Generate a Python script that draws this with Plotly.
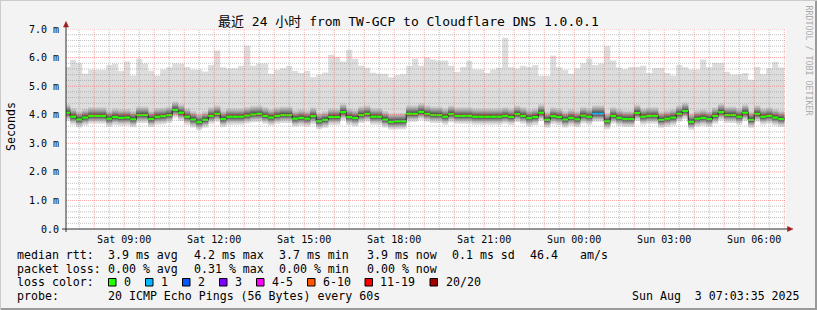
import plotly.graph_objects as go
import pandas as pd

# ---------------- data ----------------
# 12-minute bins starting 2025-08-02 07:00; values in milliseconds
median_ms = [
    4.07, 3.93, 3.83, 3.90, 3.96, 3.96, 3.96, 3.86, 3.92, 3.89,
    3.90, 3.84, 3.99, 3.99, 3.85, 3.93, 3.95, 3.99, 4.17, 4.07,
    3.93, 3.83, 3.74, 3.82, 3.96, 4.03, 3.85, 3.93, 3.93, 3.93,
    3.97, 4.01, 4.03, 3.96, 3.90, 3.96, 3.99, 3.99, 3.86, 3.89,
    3.86, 3.95, 3.77, 3.82, 3.92, 3.92, 4.09, 3.92, 3.88, 3.99,
    4.03, 3.93, 3.93, 3.83, 3.75, 3.77, 3.77, 4.03, 4.03, 4.10,
    4.03, 3.99, 3.99, 3.93, 4.02, 3.96, 3.96, 3.96, 3.93, 3.93,
    3.93, 3.93, 3.93, 3.96, 3.92, 4.02, 3.96, 3.88, 3.92, 4.07,
    3.82, 3.95, 3.92, 3.83, 3.89, 3.84, 3.97, 3.93, 4.03, 4.03,
    3.77, 3.96, 3.89, 3.85, 3.85, 4.06, 3.93, 3.96, 3.96, 3.82,
    3.86, 3.90, 4.03, 4.13, 3.75, 3.86, 3.89, 3.85, 3.96, 4.09,
    3.99, 3.99, 3.93, 4.07, 3.82, 4.03, 3.93, 3.96, 3.90, 3.85,
]
max_ms = [
    5.67, 5.92, 5.80, 5.43, 5.57, 5.57, 5.57, 5.74, 5.78, 5.53,
    5.86, 5.37, 5.96, 5.79, 5.54, 5.37, 5.58, 5.66, 5.80, 5.78,
    5.67, 5.58, 5.58, 5.51, 5.74, 6.25, 5.66, 5.62, 5.63, 5.71,
    6.41, 5.71, 5.79, 5.79, 5.43, 5.57, 5.63, 5.71, 5.53, 5.46,
    5.53, 5.32, 5.40, 5.48, 6.10, 6.03, 5.86, 6.27, 5.96, 5.71,
    5.64, 5.47, 5.43, 5.43, 5.31, 5.39, 5.42, 5.71, 5.96, 5.71,
    6.00, 5.93, 5.90, 5.90, 5.71, 5.50, 5.67, 5.89, 5.58, 5.58,
    5.46, 5.58, 5.64, 6.69, 5.66, 5.62, 5.71, 5.67, 5.74, 5.36,
    5.36, 6.06, 5.66, 5.57, 5.43, 5.63, 5.80, 5.97, 5.74, 5.79,
    6.40, 5.90, 5.65, 5.59, 5.67, 5.67, 5.71, 5.46, 5.63, 5.64,
    5.46, 5.37, 5.74, 5.66, 5.58, 5.58, 5.93, 5.66, 5.81, 5.81,
    5.50, 5.40, 5.42, 5.46, 5.22, 5.67, 5.42, 5.63, 5.85, 5.65,
]
# lower edge of the smoke (fastest ping) and upper edge of the dense smoke
smoke_lo_ms = [
    3.79, 3.65, 3.55, 3.62, 3.68, 3.68, 3.68, 3.58, 3.64, 3.61,
    3.62, 3.56, 3.71, 3.71, 3.57, 3.65, 3.67, 3.71, 3.89, 3.79,
    3.65, 3.55, 3.46, 3.54, 3.68, 3.75, 3.57, 3.65, 3.65, 3.65,
    3.69, 3.73, 3.75, 3.68, 3.62, 3.68, 3.71, 3.71, 3.58, 3.61,
    3.58, 3.67, 3.49, 3.54, 3.64, 3.64, 3.81, 3.64, 3.60, 3.71,
    3.75, 3.65, 3.65, 3.55, 3.47, 3.49, 3.49, 3.75, 3.75, 3.82,
    3.75, 3.71, 3.71, 3.65, 3.74, 3.68, 3.68, 3.68, 3.65, 3.65,
    3.65, 3.65, 3.65, 3.68, 3.64, 3.74, 3.68, 3.60, 3.64, 3.79,
    3.54, 3.67, 3.64, 3.55, 3.61, 3.56, 3.69, 3.65, 3.75, 3.75,
    3.49, 3.68, 3.61, 3.57, 3.57, 3.78, 3.65, 3.68, 3.68, 3.54,
    3.58, 3.62, 3.75, 3.85, 3.47, 3.58, 3.61, 3.57, 3.68, 3.81,
    3.71, 3.71, 3.65, 3.79, 3.54, 3.75, 3.65, 3.68, 3.62, 3.57,
]
smoke_hi_ms = [
    4.37, 4.23, 4.13, 4.20, 4.26, 4.26, 4.26, 4.16, 4.22, 4.19,
    4.20, 4.14, 4.29, 4.29, 4.15, 4.23, 4.25, 4.29, 4.47, 4.37,
    4.23, 4.13, 4.04, 4.12, 4.26, 4.33, 4.15, 4.23, 4.23, 4.23,
    4.27, 4.31, 4.33, 4.26, 4.20, 4.26, 4.29, 4.29, 4.16, 4.19,
    4.16, 4.25, 4.07, 4.12, 4.22, 4.22, 4.39, 4.22, 4.18, 4.29,
    4.33, 4.23, 4.23, 4.13, 4.05, 4.07, 4.07, 4.33, 4.33, 4.40,
    4.33, 4.29, 4.29, 4.23, 4.32, 4.26, 4.26, 4.26, 4.23, 4.23,
    4.23, 4.23, 4.23, 4.26, 4.22, 4.32, 4.26, 4.18, 4.22, 4.37,
    4.12, 4.25, 4.22, 4.13, 4.19, 4.14, 4.27, 4.23, 4.33, 4.33,
    4.07, 4.26, 4.19, 4.15, 4.15, 4.36, 4.23, 4.26, 4.26, 4.12,
    4.16, 4.20, 4.33, 4.43, 4.05, 4.16, 4.19, 4.15, 4.26, 4.39,
    4.29, 4.29, 4.23, 4.37, 4.12, 4.33, 4.23, 4.26, 4.20, 4.15,
]
loss_count = [
    0, 0, 0, 0, 0, 0, 0, 0, 0, 0, 0, 0, 0, 0, 0, 0, 0, 0, 0, 0,
    0, 0, 0, 0, 0, 0, 0, 0, 0, 0, 0, 0, 0, 0, 0, 0, 0, 0, 0, 0,
    0, 0, 0, 0, 0, 0, 0, 0, 0, 0, 0, 0, 0, 0, 0, 0, 0, 0, 0, 0,
    0, 0, 0, 0, 0, 0, 0, 0, 0, 0, 0, 0, 0, 0, 0, 0, 0, 0, 0, 0,
    0, 0, 0, 0, 0, 0, 0, 0, 1, 1, 0, 0, 0, 0, 0, 0, 0, 0, 0, 0,
    0, 0, 0, 0, 0, 0, 0, 0, 0, 0, 0, 0, 0, 0, 0, 0, 0, 0, 0, 0,
]

bin_edges = pd.date_range("2025-08-02 07:00:00", periods=len(median_ms) + 1, freq="12min")
x_range = ["2025-08-02 07:03:35", "2025-08-03 07:03:35"]

tick_times = ["2025-08-02 09:00", "2025-08-02 12:00", "2025-08-02 15:00", "2025-08-02 18:00",
              "2025-08-02 21:00", "2025-08-03 00:00", "2025-08-03 03:00", "2025-08-03 06:00"]
tick_labels = ["Sat 09:00", "Sat 12:00", "Sat 15:00", "Sat 18:00",
               "Sat 21:00", "Sun 00:00", "Sun 03:00", "Sun 06:00"]
y_ticks = [0, 1, 2, 3, 4, 5, 6, 7]
y_labels = ["0.0", "1.0 m", "2.0 m", "3.0 m", "4.0 m", "5.0 m", "6.0 m", "7.0 m"]

title_text = "最近 24 小时 from TW-GCP to Cloudflare DNS 1.0.0.1"
loss_legend = [("0", "#26ff00"), ("1", "#00b8ff"), ("2", "#0059ff"), ("3", "#7e00ff"),
               ("4-5", "#ff00ff"), ("6-10", "#ff5500"), ("11-19", "#ff0000"), ("20/20", "#a10000")]
loss_color_of = {0: "#26ff00", 1: "#00b8ff", 2: "#0059ff", 3: "#7e00ff"}

# ---------------- layout geometry ----------------
W, H = 817, 310
ML, MR, MT, MB = 66, 31, 29, 81
PW, PH = W - ML - MR, H - MT - MB
Y0 = H - MB


def px(x):
    return (x - ML) / PW


def py(y):
    return (Y0 - y) / PH


MONO = "DejaVu Sans Mono"
FONT_LEG = 11.6


def step_xy(vals):
    xs, ys = [], []
    for k, v in enumerate(vals):
        xs += [bin_edges[k], bin_edges[k + 1]]
        ys += [v, v]
    return xs, ys


fig = go.Figure()

# smoke: 10 nested bands, lightest outside, darkest at the median
shades = [221, 202, 183, 164, 145, 126, 107, 88, 69, 50]
lower_frac = [1.0, 0.78, 0.64, 0.53, 0.43, 0.34, 0.26, 0.18, 0.11, 0.04]
upper_frac = [None, 1.0, 0.82, 0.68, 0.55, 0.44, 0.33, 0.23, 0.14, 0.05]
for i, sh in enumerate(shades):
    lo_vals, hi_vals = [], []
    for m, lo, hi, mx in zip(median_ms, smoke_lo_ms, smoke_hi_ms, max_ms):
        lo_vals.append(m - lower_frac[i] * (m - lo))
        hi_vals.append(mx if i == 0 else m + upper_frac[i] * (hi - m))
    xs, ylo = step_xy(lo_vals)
    _, yhi = step_xy(hi_vals)
    col = "#%02x%02x%02x" % (sh, sh, sh)
    fig.add_trace(go.Scatter(x=xs, y=ylo, mode="lines", line=dict(width=0),
                             hoverinfo="skip", showlegend=False))
    fig.add_trace(go.Scatter(x=xs, y=yhi, mode="lines", line=dict(width=0),
                             fill="tonexty", fillcolor=col, hoverinfo="skip", showlegend=False))

# median line (dark) with vertical transitions
xs, ym = step_xy(median_ms)
fig.add_trace(go.Scatter(x=xs, y=ym, mode="lines", line=dict(color="#202020", width=1),
                         hoverinfo="skip", showlegend=False))

# loss-coloured median band
for lc, col in loss_color_of.items():
    sx, sy = [], []
    for k, (m, l) in enumerate(zip(median_ms, loss_count)):
        if l == lc:
            sx += [bin_edges[k], bin_edges[k + 1], None]
            sy += [m, m, None]
    if sx:
        fig.add_trace(go.Scatter(x=sx, y=sy, mode="lines", line=dict(color=col, width=2.2),
                                 hoverinfo="skip", showlegend=False))

shapes = []
# grid on top of data (rrdtool style)
minor_col = "rgba(140,140,140,0.55)"
major_col = "rgba(255,40,40,0.42)"
for hh in pd.date_range("2025-08-02 07:30", "2025-08-03 07:00", freq="30min"):
    is_major = hh.minute == 0
    shapes.append(dict(type="line", xref="x", yref="paper", x0=hh, x1=hh, y0=0, y1=1,
                       line=dict(color=major_col if is_major else minor_col, width=1, dash="1px,1px"),
                       layer="above"))
for j in range(1, 36):
    v = j * 0.2
    is_major = j % 5 == 0
    shapes.append(dict(type="line", xref="paper", yref="y", x0=0, x1=1, y0=v, y1=v,
                       line=dict(color=major_col if is_major else minor_col, width=1, dash="1px,1px"),
                       layer="above"))

# axes lines and arrows
AX = "#303030"
ARROW = "#a01818"
shapes.append(dict(type="line", xref="paper", yref="paper", x0=px(62), x1=px(789), y0=0, y1=0,
                   line=dict(color=AX, width=1), layer="above"))
shapes.append(dict(type="line", xref="paper", yref="paper", x0=0, x1=0, y0=py(232), y1=py(24),
                   line=dict(color=AX, width=1), layer="above"))


def tri(pts, color):
    path = "M " + " L ".join("%f,%f" % (px(a), py(b)) for a, b in pts) + " Z"
    return dict(type="path", xref="paper", yref="paper", path=path,
                fillcolor=color, line=dict(color=color, width=0.5), layer="above")


shapes.append(tri([(66, 21.5), (63.5, 27), (68.5, 27)], ARROW))
shapes.append(tri([(793, 229), (787.5, 226.5), (787.5, 231.5)], ARROW))

# image frame
shapes.append(dict(type="line", xref="paper", yref="paper", x0=px(0), x1=px(817), y0=py(309), y1=py(309),
                   line=dict(color="#9a9a9a", width=2), layer="above"))
shapes.append(dict(type="line", xref="paper", yref="paper", x0=px(816), x1=px(816), y0=py(0), y1=py(310),
                   line=dict(color="#9a9a9a", width=2), layer="above"))
shapes.append(dict(type="line", xref="paper", yref="paper", x0=px(0), x1=px(817), y0=py(0.5), y1=py(0.5),
                   line=dict(color="#cbcbcb", width=1), layer="above"))
shapes.append(dict(type="line", xref="paper", yref="paper", x0=px(0.5), x1=px(0.5), y0=py(0), y1=py(310),
                   line=dict(color="#cbcbcb", width=1), layer="above"))

annotations = []


def txt(x, y, s, size=FONT_LEG, anchor="left", color="#000000", angle=0, family=MONO):
    annotations.append(dict(x=px(x), y=py(y), xref="paper", yref="paper", text=s, showarrow=False,
                            xanchor=anchor, yanchor="middle", textangle=angle, borderpad=0,
                            font=dict(family=family, size=size, color=color)))


txt(408.5, 21.5, title_text, size=13, anchor="center", family=MONO + ", Noto Sans CJK SC")
txt(10.5, 126.5, "Seconds", angle=-90, anchor="center")
txt(808.5, 60, "RRDTOOL / TOBI OETIKER", size=8.3, anchor="center", color="#ababab", angle=90)

row1 = [(16, "median rtt:"), (107.3, "3.9 ms avg"), (192.7, "4.2 ms max"), (278.3, "3.7 ms min"),
        (365.7, "3.9 ms now"), (450.7, "0.1 ms sd"), (528.5, "46.4"), (579.3, "am/s")]
row2 = [(16, "packet loss:"), (107.3, "0.00 % avg"), (192.7, "0.31 % max"), (278.3, "0.00 % min"),
        (365.7, "0.00 % now")]
for x, s in row1:
    txt(x, 254.5, s)
for x, s in row2:
    txt(x, 268.5, s)
txt(16, 282.3, "loss color:")
box_x = [108.5, 145.5, 182.5, 219.5, 256.5, 307.5, 365, 430]
lab_x = [123.3, 160, 197.3, 234.3, 270.7, 321.7, 379, 445]
for (lab, col), bx, lx in zip(loss_legend, box_x, lab_x):
    shapes.append(dict(type="rect", xref="paper", yref="paper", x0=px(bx), x1=px(bx + 7.5),
                       y0=py(286), y1=py(278.5), fillcolor=col, line=dict(color="#000000", width=1),
                       layer="above"))
    txt(lx, 282.3, lab)
txt(16, 296.2, "probe:")
txt(107.3, 296.2, "20 ICMP Echo Pings (56 Bytes) every 60s")
txt(800.5, 296.2, "Sun Aug  3 07:03:35 2025".replace("  ", "\u00a0\u00a0"), anchor="right")

fig.update_layout(
    width=W, height=H, autosize=False,
    margin=dict(l=ML, r=MR, t=MT, b=MB, pad=0),
    paper_bgcolor="#f3f3f3", plot_bgcolor="#ffffff",
    showlegend=False, shapes=shapes, annotations=annotations,
    xaxis=dict(type="date", range=x_range, showgrid=False, zeroline=False, showline=False,
               tickmode="array", tickvals=tick_times, ticktext=tick_labels, ticks="",
               tickfont=dict(family=MONO, size=10, color="#000000"), ticklabelstandoff=3,
               fixedrange=True),
    yaxis=dict(range=[0, 7], showgrid=False, zeroline=False, showline=False,
               tickmode="array", tickvals=y_ticks, ticktext=y_labels, ticks="",
               tickfont=dict(family=MONO, size=10, color="#000000"), ticklabelstandoff=6,
               fixedrange=True),
)

fig.write_html("out.html")
